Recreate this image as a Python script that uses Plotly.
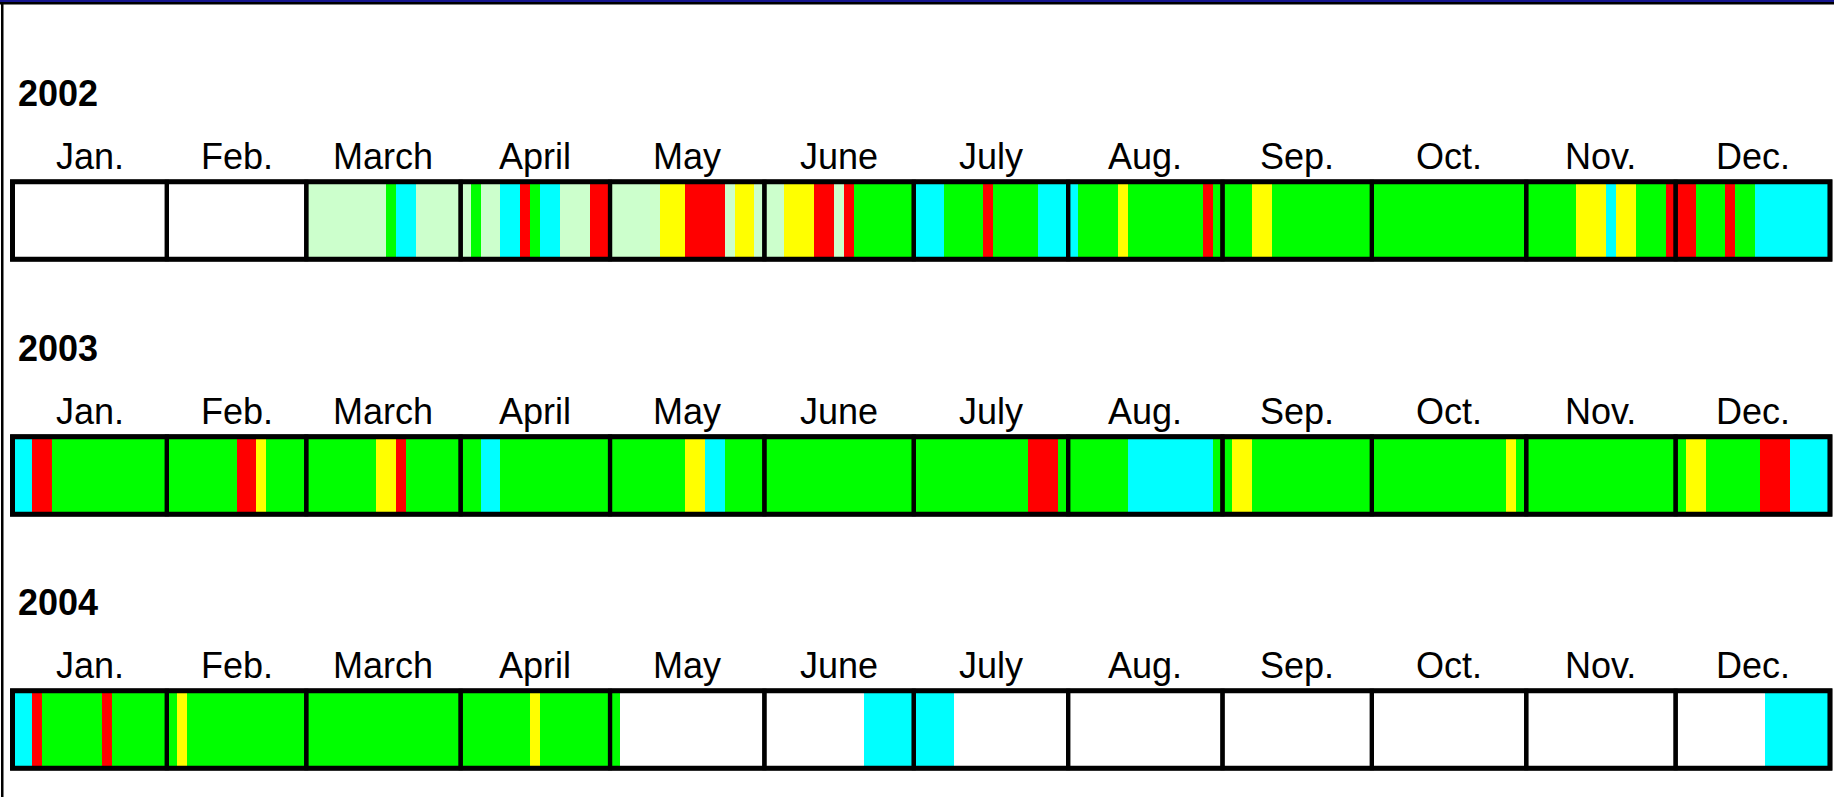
import plotly.graph_objects as go

# ---------------- data ----------------
MONTHS = ["Jan.", "Feb.", "March", "April", "May", "June",
          "July", "Aug.", "Sep.", "Oct.", "Nov.", "Dec."]
MONTH_DAYS = [31, 28, 31, 30, 31, 30, 31, 31, 30, 31, 30, 31]
YEARS = ["2002", "2003", "2004"]

# status code -> colour  (w = no data)
STATUS_COLORS = {
    "w": "#FFFFFF",
    "lg": "#CCFFCC",
    "g": "#00FF00",
    "y": "#FFFF00",
    "r": "#FF0000",
    "c": "#00FFFF",
}

# runs of consecutive days per month: (status, number of days)
RUNS_2002 = [
    [("w", 31)],
    [("w", 28)],
    [("lg", 16), ("g", 2), ("c", 4), ("lg", 9)],
    [("lg", 2), ("g", 2), ("lg", 4), ("c", 4), ("r", 2), ("g", 2), ("c", 4), ("lg", 6), ("r", 4)],
    [("lg", 10), ("y", 5), ("r", 8), ("lg", 2), ("y", 4), ("lg", 2)],
    [("lg", 4), ("y", 6), ("r", 4), ("lg", 2), ("r", 2), ("g", 12)],
    [("c", 6), ("g", 8), ("r", 2), ("g", 9), ("c", 6)],
    [("c", 2), ("g", 8), ("y", 2), ("g", 15), ("r", 2), ("g", 2)],
    [("g", 6), ("y", 4), ("g", 20)],
    [("g", 31)],
    [("g", 10), ("y", 6), ("c", 2), ("y", 4), ("g", 6), ("r", 2)],
    [("r", 4), ("g", 6), ("r", 2), ("g", 4), ("c", 15)],
]
RUNS_2003 = [
    [("c", 4), ("r", 4), ("g", 23)],
    [("g", 14), ("r", 4), ("y", 2), ("g", 8)],
    [("g", 14), ("y", 4), ("r", 2), ("g", 11)],
    [("g", 4), ("c", 4), ("g", 22)],
    [("g", 15), ("y", 4), ("c", 4), ("g", 8)],
    [("g", 30)],
    [("g", 23), ("r", 6), ("g", 2)],
    [("g", 12), ("c", 17), ("g", 2)],
    [("g", 2), ("y", 4), ("g", 24)],
    [("g", 27), ("y", 2), ("g", 2)],
    [("g", 30)],
    [("g", 2), ("y", 4), ("g", 11), ("r", 6), ("c", 8)],
]
RUNS_2004 = [
    [("c", 4), ("r", 2), ("g", 12), ("r", 2), ("g", 11)],
    [("g", 2), ("y", 2), ("g", 24)],
    [("g", 31)],
    [("g", 14), ("y", 2), ("g", 14)],
    [("g", 2), ("w", 29)],
    [("w", 20), ("c", 10)],
    [("c", 8), ("w", 23)],
    [("w", 31)],
    [("w", 30)],
    [("w", 31)],
    [("w", 30)],
    [("w", 18), ("c", 13)],
]
ALL_RUNS = [RUNS_2002, RUNS_2003, RUNS_2004]

# ---------------- layout constants ----------------
W, H = 1834, 797
DAY0_PX, DAY365_PX = 12.5, 1830.0
PX_PER_DAY = (DAY365_PX - DAY0_PX) / 365
X_RANGE = [-DAY0_PX / PX_PER_DAY, 365 + (W - DAY365_PX) / PX_PER_DAY]

ROW_CENTERS = [220.5, 475.4, 729.5]   # vertical pixel centres of the bars
BAR_H = 77.5
YEAR_OFFSET = -127.0
MONTH_OFFSET = -63.7
FONT = "Liberation Sans, Arial, sans-serif"

month_starts = []
acc = 0
for d in MONTH_DAYS:
    month_starts.append(acc)
    acc += d

# ---------------- traces ----------------
seg = {k: {"y": [], "x": [], "base": []} for k in STATUS_COLORS}
for ri, runs in enumerate(ALL_RUNS):
    for mi, month_runs in enumerate(runs):
        day = month_starts[mi]
        for code, n in month_runs:
            seg[code]["y"].append(ROW_CENTERS[ri])
            seg[code]["x"].append(n)
            seg[code]["base"].append(day)
            day += n

fig = go.Figure()
for code, s in seg.items():
    if not s["x"]:
        continue
    fig.add_trace(go.Bar(
        orientation="h", y=s["y"], x=s["x"], base=s["base"],
        width=[BAR_H] * len(s["x"]),
        marker=dict(color=STATUS_COLORS[code], line=dict(width=0)),
        hoverinfo="skip", showlegend=False,
    ))

# ---------------- shapes & labels ----------------
shapes = []
annotations = []
for ri, yc in enumerate(ROW_CENTERS):
    y0, y1 = yc - BAR_H / 2, yc + BAR_H / 2
    for mi, (start, nd) in enumerate(zip(month_starts, MONTH_DAYS)):
        shapes.append(dict(type="rect", xref="x", yref="y",
                           x0=start, x1=start + nd, y0=y0, y1=y1,
                           line=dict(color="black", width=4.2),
                           fillcolor="rgba(0,0,0,0)"))
        annotations.append(dict(xref="x", yref="y", x=start + nd / 2,
                                y=yc + MONTH_OFFSET, text=MONTHS[mi],
                                showarrow=False, xanchor="center", yanchor="middle",
                                font=dict(family=FONT, size=36, color="black")))
    shapes.append(dict(type="rect", xref="x", yref="y", x0=0, x1=365,
                       y0=y0, y1=y1, line=dict(color="black", width=5),
                       fillcolor="rgba(0,0,0,0)"))
    annotations.append(dict(xref="paper", yref="y", x=16 / W, y=yc + YEAR_OFFSET,
                            text="<b>" + YEARS[ri] + "</b>", showarrow=False,
                            xanchor="left", yanchor="middle",
                            font=dict(family=FONT, size=36, color="black")))

# frame lines (top navy + black, left black)
shapes.append(dict(type="rect", xref="paper", yref="y", x0=0, x1=1, y0=0, y1=2,
                   fillcolor="#16168f", line=dict(width=0), layer="above"))
shapes.append(dict(type="rect", xref="paper", yref="y", x0=0, x1=1, y0=2, y1=4.5,
                   fillcolor="black", line=dict(width=0), layer="above"))
shapes.append(dict(type="rect", xref="paper", yref="y", x0=1 / W, x1=3.5 / W, y0=2, y1=H,
                   fillcolor="black", line=dict(width=0), layer="above"))

fig.update_layout(
    width=W, height=H,
    margin=dict(l=0, r=0, t=0, b=0, pad=0),
    paper_bgcolor="white", plot_bgcolor="white",
    barmode="overlay", bargap=0,
    xaxis=dict(range=X_RANGE, visible=False, fixedrange=True),
    yaxis=dict(range=[H, 0], visible=False, fixedrange=True),
    shapes=shapes, annotations=annotations,
    showlegend=False,
)

fig.write_html("out.html", config={"displayModeBar": False},
               post_script="document.body.style.margin='0';document.body.style.overflow='hidden';")
